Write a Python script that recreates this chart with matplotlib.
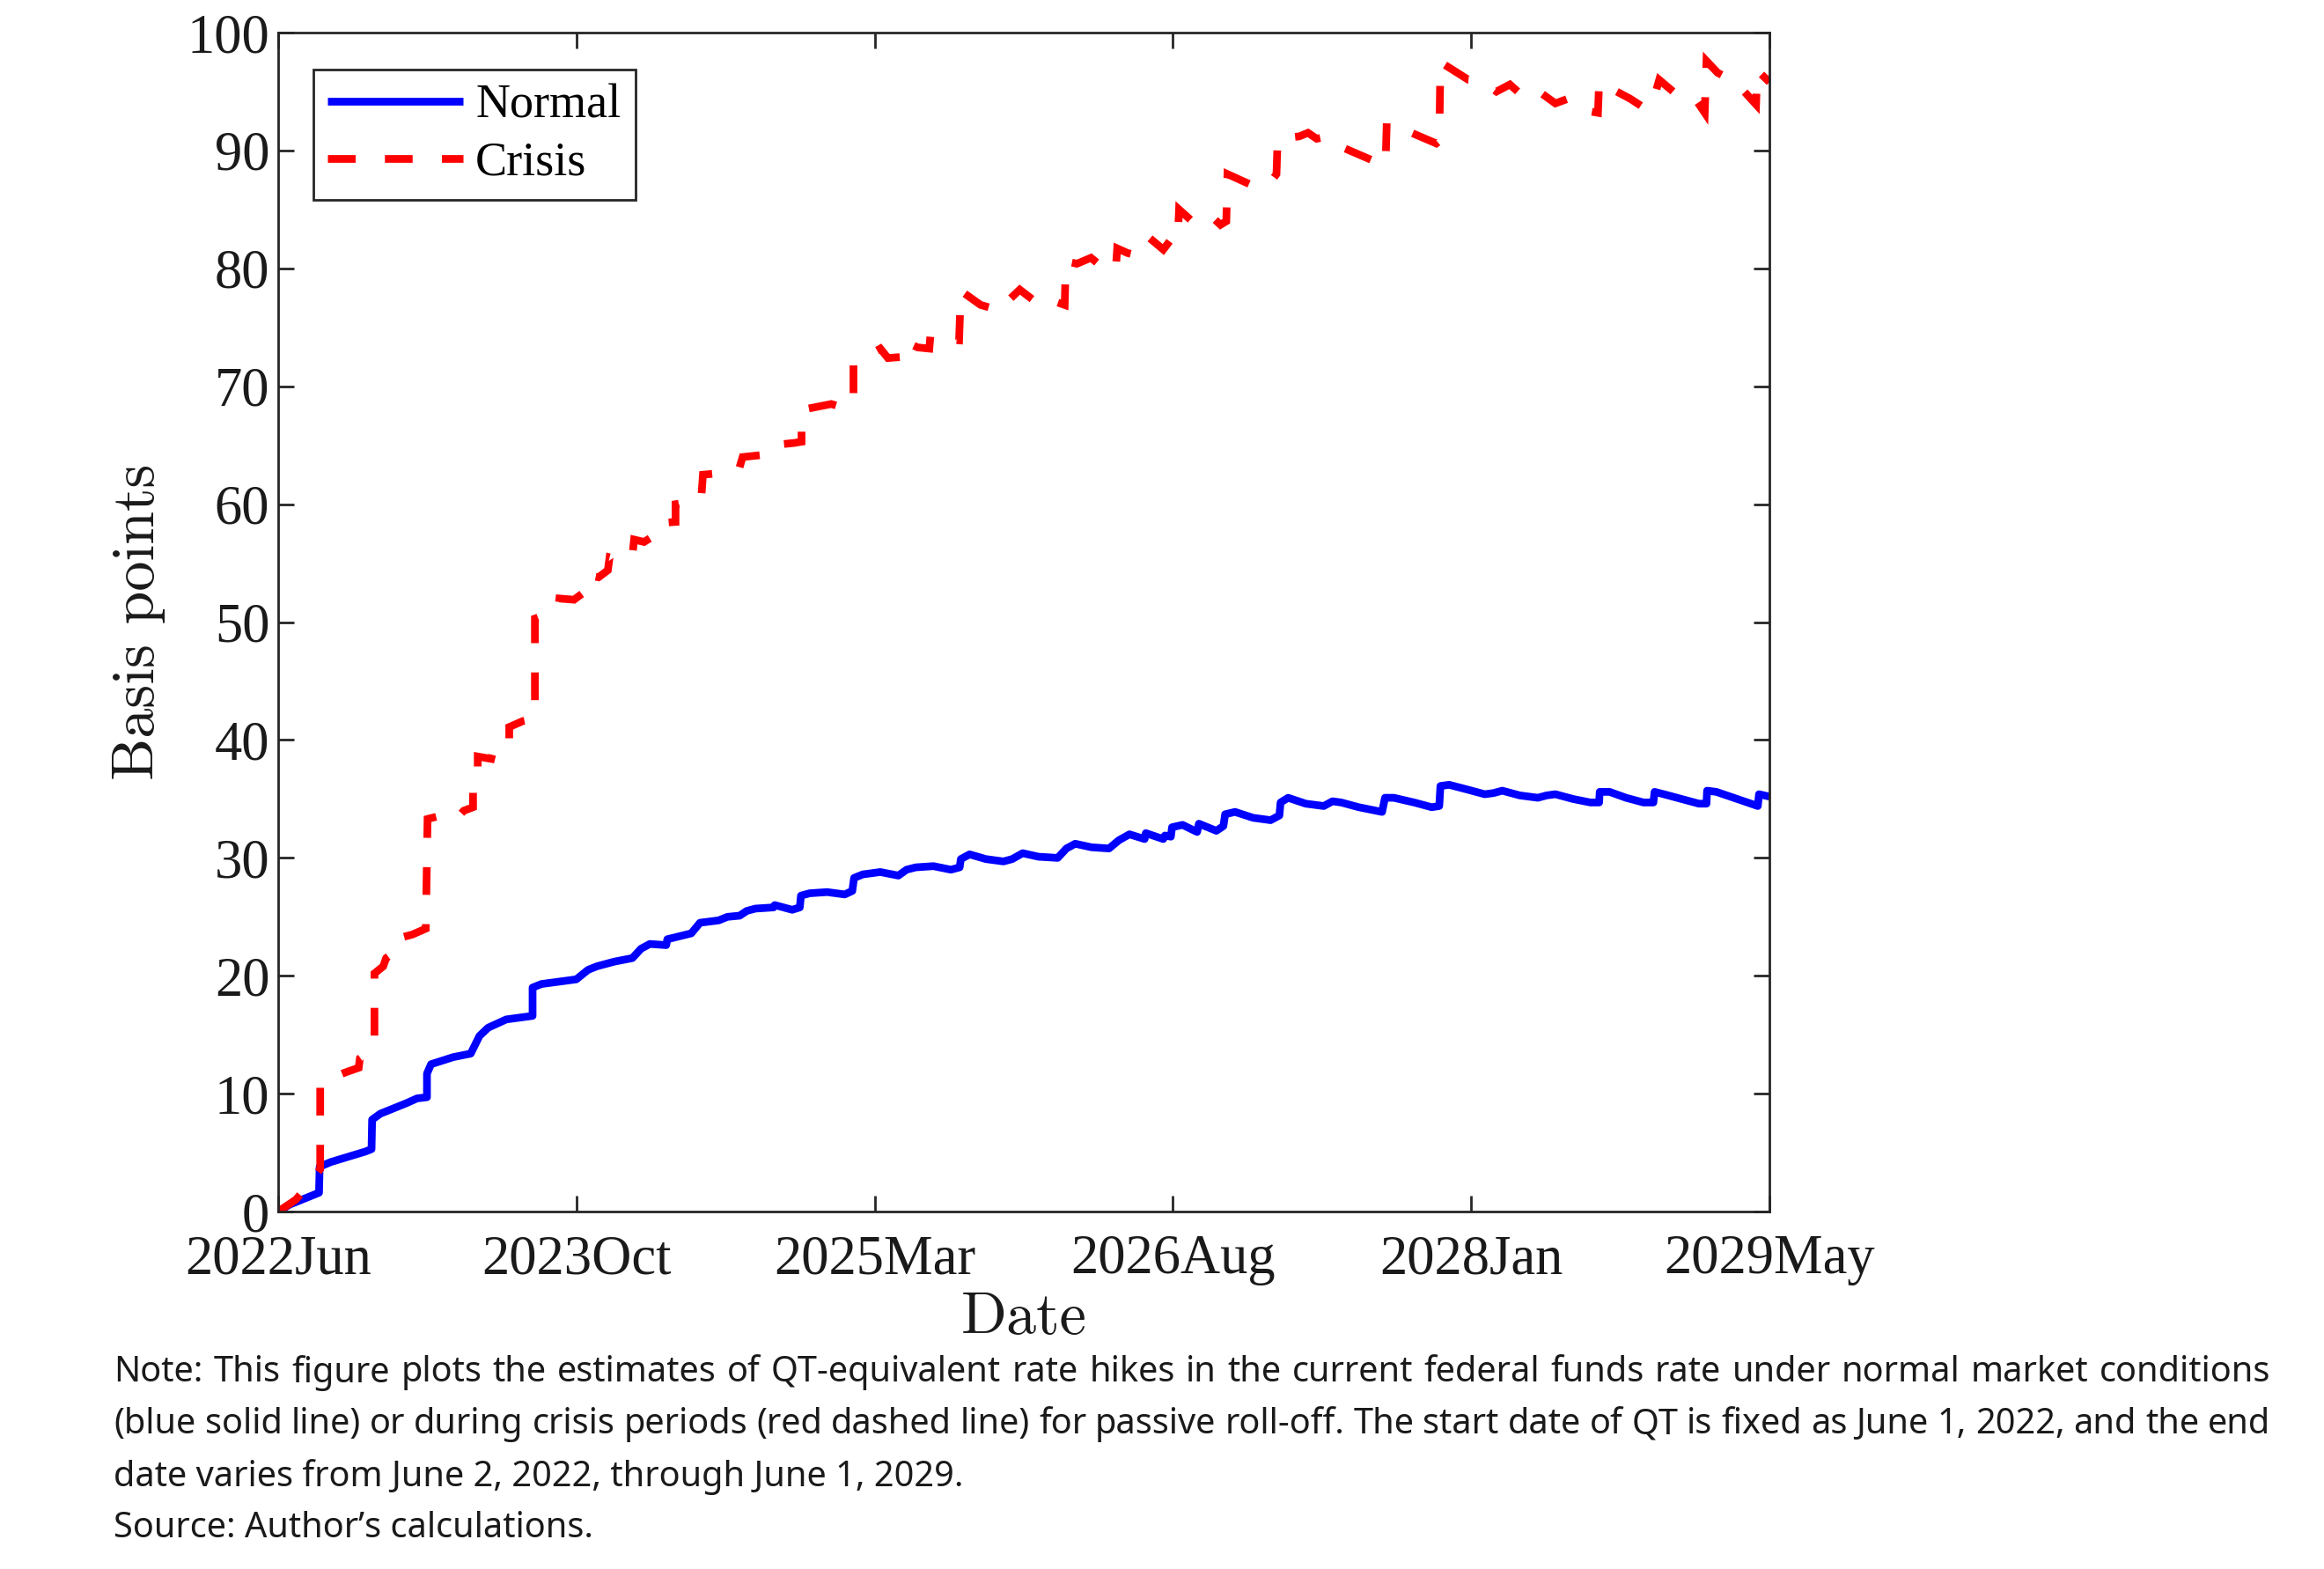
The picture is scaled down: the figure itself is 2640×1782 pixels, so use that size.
import numpy as np
import matplotlib
matplotlib.use('Agg')
import matplotlib.pyplot as plt

# days counted from June 2, 2022 (end date of QT), basis points
blue_day = [0, 20, 40, 60, 70, 71, 90, 110, 130, 150, 160, 161, 175, 200, 220, 238,
            255, 255, 262, 300, 330, 345, 360, 391, 421, 436, 436, 451, 481, 511, 531,
            546, 576, 607, 622, 637, 665, 667, 708, 723, 755, 770, 791, 803, 818, 849,
            851, 881, 894, 896, 911, 941, 971, 984, 987, 1002, 1032, 1063, 1077, 1093,
            1123, 1153, 1168, 1170, 1185, 1213, 1243, 1258, 1276, 1303, 1336, 1351,
            1366, 1394, 1424, 1441, 1459, 1485, 1487, 1517, 1520, 1530, 1532, 1550,
            1575, 1578, 1608, 1620, 1623, 1640, 1671, 1701, 1716, 1718, 1731, 1761,
            1792, 1807, 1822, 1852, 1892, 1897, 1912, 1947, 1977, 1990, 1992, 2007,
            2038, 2068, 2083, 2098, 2128, 2159, 2174, 2189, 2219, 2249, 2264, 2265,
            2282, 2310, 2340, 2357, 2359, 2375, 2405, 2435, 2448, 2449, 2465, 2536,
            2538, 2556]
blue_bp = [0.0, 0.6, 1.0, 1.4, 1.6, 3.8, 4.2, 4.5, 4.8, 5.1, 5.3, 7.8, 8.3, 8.8, 9.2, 9.6,
           9.7, 11.7, 12.5, 13.1, 13.4, 14.9, 15.6, 16.3, 16.5, 16.6, 19.0, 19.3, 19.5,
           19.7, 20.5, 20.8, 21.2, 21.5, 22.3, 22.7, 22.6, 23.1, 23.6, 24.5, 24.7, 25.0,
           25.1, 25.5, 25.7, 25.8, 26.0, 25.6, 25.8, 26.8, 27.0, 27.1, 26.9, 27.2, 28.3,
           28.6, 28.8, 28.5, 29.0, 29.2, 29.3, 29.0, 29.2, 29.9, 30.3, 29.9, 29.7, 29.9,
           30.4, 30.1, 30.0, 30.8, 31.2, 30.9, 30.8, 31.5, 32.0, 31.6, 32.1, 31.6, 31.9,
           31.8, 32.6, 32.8, 32.2, 32.9, 32.3, 32.7, 33.7, 33.9, 33.4, 33.2, 33.6, 34.7,
           35.1, 34.6, 34.4, 34.8, 34.7, 34.3, 33.9, 35.1, 35.1, 34.7, 34.3, 34.4, 36.1,
           36.2, 35.8, 35.4, 35.5, 35.7, 35.3, 35.1, 35.3, 35.4, 35.0, 34.7, 34.7, 35.6,
           35.6, 35.1, 34.7, 34.7, 35.6, 35.4, 35.0, 34.6, 34.6, 35.7, 35.6, 34.4, 35.4,
           35.2]

red_day = [0, 30, 55, 72, 72, 90, 115, 138, 140, 163, 165, 165, 180, 185, 207, 207, 230,
           253, 256, 280, 303, 318, 334, 334, 342, 342, 365, 373, 396, 396, 419, 440,
           440, 457, 480, 482, 507, 526, 530, 549, 565, 568, 585, 607, 610, 627, 650,
           653, 681, 681, 707, 725, 728, 770, 790, 796, 834, 840, 846, 885, 897, 897,
           948, 968, 986, 986, 1000, 1032, 1045, 1072, 1074, 1096, 1116, 1118, 1140,
           1167, 1170, 1204, 1240, 1254, 1271, 1305, 1325, 1348, 1350, 1369, 1393,
           1423, 1436, 1438, 1456, 1473, 1493, 1517, 1537, 1542, 1544, 1571, 1600,
           1615, 1625, 1627, 1676, 1699, 1711, 1713, 1750, 1765, 1780, 1800, 1827,
           1888, 1898, 1900, 1952, 1985, 1990, 1992, 2040, 2063, 2088, 2111, 2136,
           2161, 2189, 2211, 2239, 2262, 2264, 2317, 2345, 2360, 2367, 2405, 2430,
           2445, 2448, 2467, 2498, 2533, 2535, 2556]
red_bp = [0.0, 1.0, 2.4, 3.6, 11.0, 11.3, 11.8, 12.2, 13.0, 13.8, 14.2, 20.2, 20.8, 21.5,
          22.3, 23.2, 23.5, 24.0, 33.3, 33.6, 33.2, 34.0, 34.3, 36.0, 36.2, 38.6, 38.4,
          40.0, 40.1, 41.1, 41.6, 41.8, 50.3, 50.6, 51.1, 52.0, 51.9, 52.6, 54.0, 53.8,
          54.4, 55.5, 55.3, 55.6, 57.0, 56.8, 57.5, 58.4, 58.5, 60.0, 60.2, 60.4, 62.5,
          62.7, 63.0, 64.0, 64.2, 64.5, 65.0, 65.2, 65.3, 68.0, 68.5, 68.2, 68.5, 72.0,
          72.3, 73.2, 72.4, 72.5, 73.8, 73.3, 73.2, 74.4, 74.0, 73.9, 78.1, 76.9, 76.4,
          77.4, 78.2, 76.9, 77.3, 76.9, 80.6, 80.4, 80.9, 79.7, 80.2, 81.7, 81.3, 81.1,
          82.6, 81.6, 82.9, 82.6, 85.0, 83.8, 84.4, 83.7, 84.0, 88.0, 86.9, 87.2, 88.0,
          91.0, 91.2, 91.5, 91.0, 91.2, 90.2, 88.9, 88.8, 92.4, 91.3, 90.6, 90.8, 97.5,
          96.0, 95.9, 95.0, 95.6, 94.5, 95.0, 94.0, 94.4, 93.4, 93.2, 95.8, 94.4, 93.5,
          94.8, 96.0, 94.4, 94.3, 93.2, 97.6, 96.6, 95.8, 93.9, 96.8, 95.8]

date_labels = ['2022Jun', '2023Oct', '2025Mar', '2026Aug', '2028Jan', '2029May']
last_day = 2556

note_lines = [
    'Note:  This figure plots the estimates of QT-equivalent rate hikes in the current federal funds rate under normal market conditions',
    '(blue solid line) or during crisis periods (red dashed line) for passive roll-off. The start date of QT is fixed as June 1, 2022, and the end',
    'date varies from June 2, 2022, through June 1, 2029.',
    'Source: Author\u2019s calculations.',
]

plt.rcParams['font.family'] = 'Liberation Serif'
axis_col = '#262626'

fig = plt.figure(figsize=(26.4, 17.82), dpi=100)
ax = fig.add_axes([0.1197, 0.2278, 0.6417, 0.7514])

ax.plot(blue_day, blue_bp, color='#0000ff', lw=6.3, label='Normal',
        solid_joinstyle='round', solid_capstyle='butt')
ax.plot(red_day, red_bp, color='#ff0000', lw=6.3, ls=(0, (3.6, 3.8)), label='Crisis',
        dash_joinstyle='miter', dash_capstyle='butt')

ax.set_xlim(0, last_day)
ax.set_ylim(0, 100)
ax.set_xticks(np.linspace(0, last_day, 6))
ax.set_xticklabels(date_labels)
ax.set_yticks(range(0, 101, 10))
ax.tick_params(direction='in', length=13, width=2, top=True, right=True,
               labelsize=45, color=axis_col, labelcolor='#1a1a1a')
ax.tick_params(axis='x', pad=19)
ax.tick_params(axis='y', pad=7)
for s in ax.spines.values():
    s.set_linewidth(2)
    s.set_color(axis_col)

ax.set_ylabel('Basis points', fontfamily='cmr10', fontsize=49, va='center', color='#1a1a1a')
ax.yaxis.set_label_coords(-0.0939, 0.5)
ax.set_xlabel('Date', fontfamily='cmr10', fontsize=49, va='center', color='#1a1a1a')
ax.xaxis.set_label_coords(0.5, -0.091)

leg = ax.legend(loc='upper left', bbox_to_anchor=(0.1348, 0.9557),
                bbox_transform=fig.transFigure, borderaxespad=0, fancybox=False,
                framealpha=1, edgecolor=axis_col, prop={'family': 'Liberation Serif', 'size': 39},
                handlelength=2.85, handletextpad=0.25, borderpad=0.3, labelspacing=0.27)
leg.get_frame().set_linewidth(2)

# note below the chart; first two lines are justified like the source
note_left, note_right = 0.049, 0.977
fig.canvas.draw()
renderer = fig.canvas.get_renderer()
fig_w = fig.bbox.width
for i, line in enumerate(note_lines):
    y = 0.1251 - i * 0.0331
    kw = dict(fontfamily='Noto Sans', fontsize=28.6, va='center', ha='left', color='#1a1a1a')
    if i >= 2:
        fig.text(note_left, y, line, **kw)
        continue
    words = line.split()
    items = [fig.text(0, y, w, **kw) for w in words]
    widths = [t.get_window_extent(renderer).width / fig_w for t in items]
    gap = (note_right - note_left - sum(widths)) / (len(words) - 1)
    x = note_left
    for t, w in zip(items, widths):
        t.set_x(x)
        x += w + gap

fig.savefig('out.png', dpi=100, facecolor='white')
